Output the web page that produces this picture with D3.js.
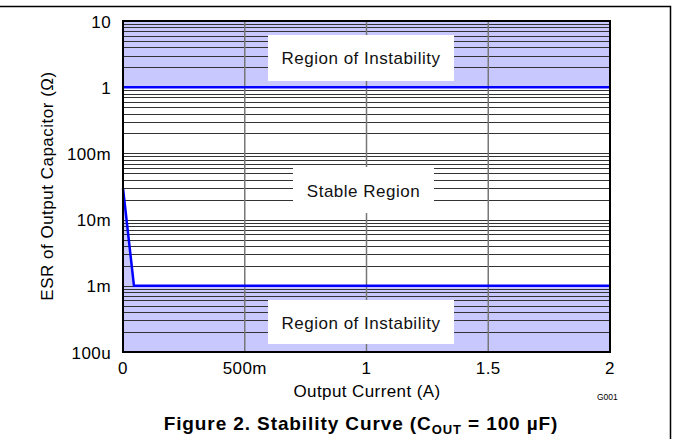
<!DOCTYPE html>
<html>
<head>
<meta charset="utf-8">
<script src="https://cdn.jsdelivr.net/npm/d3@7"></script>
<style>
  body { margin: 0; background: #fff; }
  text { font-family: "Liberation Sans", Arial, sans-serif; }
</style>
</head>
<body>
<div id="chart"></div>
<script>
// boundary curve (lower limit of ESR) and upper limit
const lowerX = [0, 0.045, 2];
const lowerY = [0.03, 0.001, 0.001];
const upperX = [0, 2];
const upperY = [1, 1];

const xTicks = [0, 0.5, 1, 1.5, 2];
const xTickLabels = ["0", "500m", "1", "1.5", "2"];
const yTicks = [1e-4, 1e-3, 1e-2, 1e-1, 1, 10];
const yTickLabels = ["100u", "1m", "10m", "100m", "1", "10"];

const width = 673, height = 439;
const margin = { left: 123, right: 63, top: 21, bottom: 87 };
const pw = width - margin.left - margin.right,
  ph = height - margin.top - margin.bottom;

const x = d3.scaleLinear().domain([0, 2]).range([0, pw]);
const y = d3.scaleLog().domain([1e-4, 10]).range([ph, 0]);

const svg = d3.select("#chart")
  .append("svg")
  .attr("width", width)
  .attr("height", height);

// outer frame
svg.append("path")
  .attr("d", `M0,6.5H670.5V${height}`)
  .attr("fill", "none")
  .attr("stroke", "#000")
  .attr("stroke-width", 1.5);

const g = svg.append("g").attr("transform", `translate(${margin.left},${margin.top})`);

const lower = lowerX.map((d, i) => [d, lowerY[i]]);
const upper = upperX.map((d, i) => [d, upperY[i]]);

// instability regions
g.append("path")
  .attr("d", d3.area().x(d => x(d[0])).y0(ph).y1(d => y(d[1]))(lower))
  .attr("fill", "#c8c8ff");
g.append("path")
  .attr("d", d3.area().x(d => x(d[0])).y0(0).y1(d => y(d[1]))(upper))
  .attr("fill", "#c8c8ff");

// horizontal grid on every log tick
const minor = [];
for (let e = -4; e < 1; e++) {
  for (let k = 2; k <= 9; k++) minor.push(k * Math.pow(10, e));
}
g.append("g")
  .selectAll("line")
  .data(minor.concat([1e-3, 1e-2, 1e-1]))
  .join("line")
  .attr("x1", 0).attr("x2", pw)
  .attr("y1", d => Math.round(y(d)) + 0.5).attr("y2", d => Math.round(y(d)) + 0.5)
  .attr("stroke", "#333")
  .attr("stroke-width", 1);

// vertical grid
g.append("g")
  .selectAll("line")
  .data([0.5, 1, 1.5])
  .join("line")
  .attr("x1", d => x(d)).attr("x2", d => x(d))
  .attr("y1", 0).attr("y2", ph)
  .attr("stroke", "#777")
  .attr("stroke-width", 1.5);

// label boxes
const boxes = [
  { text: "Region of Instability", x0: 268, x1: 454, y0: 35, y1: 81, ty: 64 },
  { text: "Stable Region", x0: 293, x1: 434, y0: 167, y1: 213, ty: 197 },
  { text: "Region of Instability", x0: 268, x1: 454, y0: 300, y1: 344, ty: 329 }
];
svg.append("g")
  .selectAll("rect")
  .data(boxes)
  .join("rect")
  .attr("x", d => d.x0).attr("y", d => d.y0)
  .attr("width", d => d.x1 - d.x0).attr("height", d => d.y1 - d.y0)
  .attr("fill", "#fff");
svg.append("g")
  .attr("font-size", 17)
  .attr("letter-spacing", 0.5)
  .attr("text-anchor", "middle")
  .selectAll("text")
  .data(boxes)
  .join("text")
  .attr("x", d => (d.x0 + d.x1) / 2)
  .attr("y", d => d.ty)
  .attr("fill", "#111")
  .text(d => d.text);

// curves
const line = d3.line().x(d => x(d[0])).y(d => y(d[1]));
g.append("path").attr("d", line(lower)).attr("fill", "none").attr("stroke", "#0000ff").attr("stroke-width", 2.5);
g.append("path").attr("d", line(upper)).attr("fill", "none").attr("stroke", "#0000ff").attr("stroke-width", 2.5);

// plot frame
g.append("rect")
  .attr("width", pw).attr("height", ph)
  .attr("fill", "none")
  .attr("stroke", "#000")
  .attr("stroke-width", 2);

// tick labels
g.append("g")
  .attr("font-size", 17)
  .attr("letter-spacing", 0.4)
  .attr("text-anchor", "end")
  .selectAll("text")
  .data(yTicks)
  .join("text")
  .attr("x", -12)
  .attr("y", d => y(d) + 6.5)
  .text((d, i) => yTickLabels[i]);

g.append("g")
  .attr("font-size", 17)
  .attr("letter-spacing", 0.4)
  .attr("text-anchor", "middle")
  .selectAll("text")
  .data(xTicks)
  .join("text")
  .attr("x", d => x(d))
  .attr("y", ph + 22)
  .text((d, i) => xTickLabels[i]);

// axis titles
g.append("text")
  .attr("font-size", 17)
  .attr("letter-spacing", 0.4)
  .attr("text-anchor", "middle")
  .attr("x", 367 - margin.left)
  .attr("y", ph + 45)
  .text("Output Current (A)");

svg.append("text")
  .attr("font-size", 17)
  .attr("letter-spacing", 0.5)
  .attr("text-anchor", "middle")
  .attr("transform", "translate(53,186) rotate(-90)")
  .text("ESR of Output Capacitor (Ω)");

svg.append("text")
  .attr("font-size", 8.5)
  .attr("x", 597)
  .attr("y", 400)
  .text("G001");

// caption
const cap = svg.append("text")
  .attr("font-size", 19)
  .attr("font-weight", "bold")
  .attr("letter-spacing", 0.9)
  .attr("text-anchor", "middle")
  .attr("x", 361)
  .attr("y", 430);
cap.append("tspan").text("Figure 2. Stability Curve (C");
cap.append("tspan").attr("font-size", 13).attr("dy", 4).text("OUT");
cap.append("tspan").attr("dy", -4).text(" = 100 µF)");
</script>
</body>
</html>
